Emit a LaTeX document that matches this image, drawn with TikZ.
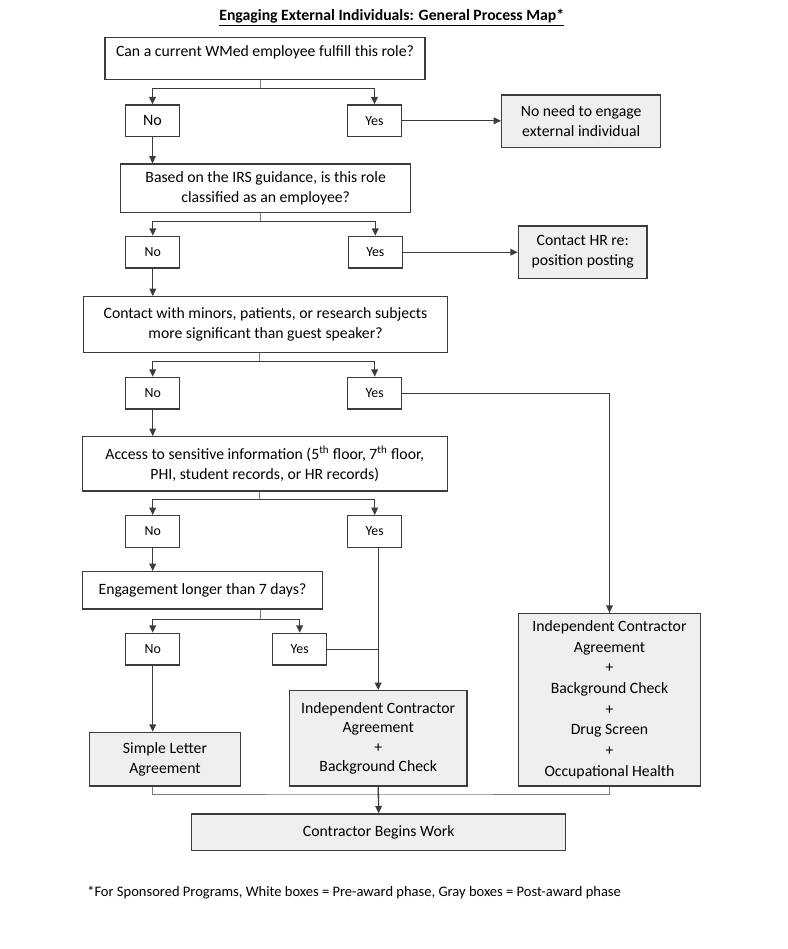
\documentclass[tikz,border=0pt]{standalone}
\usepackage{fontspec}
\setmainfont{Carlito}
\usetikzlibrary{arrows.meta}
\definecolor{edge}{RGB}{60,60,60}
\definecolor{stemgray}{RGB}{125,125,125}
\definecolor{post}{RGB}{239,239,239}

\begin{document}
\begin{tikzpicture}[
  x=0.75pt, y=-0.75pt,
  box/.style 2 args={rectangle, draw=edge, line width=0.95pt, fill=white,
    minimum width=#1*0.75pt, minimum height=#2*0.75pt, inner sep=1pt,
    font=\fontsize{11.8}{15}\selectfont, align=center},
  gbox/.style 2 args={box={#1}{#2}, fill=post},
  ans/.style={box={54}{31.7}, font=\fontsize{10.4}{12}\selectfont},
  arrow/.style={-{Triangle[length=5.5pt,width=5pt]}, line width=1pt, edge},
  link/.style={line width=0.75pt, edge},
  stem/.style={line width=0.7pt, stemgray}
]
\useasboundingbox (0,0) rectangle (788,949);

\node[font=\fontsize{11.8}{13}\selectfont\bfseries] (title) at (391.7,18)
  {\underline{Engaging External Individuals: General Process Map*}};

% Questions
\node[box={320}{42}, text depth=11pt] (q1) at (265,58.3) {Can a current WMed employee fulfill this role?};
\node[box={290}{48.3}] (q2) at (265.7,188.2) {Based on the IRS guidance, is this role\\classified as an employee?};
\node[box={364.4}{55.6}] (q3) at (265.5,324.5) {Contact with minors, patients, or research subjects\\more significant than guest speaker?};
\node[box={365}{54.3}] (q4) at (264.8,463.8) {Access to sensitive information (5\textsuperscript{th} floor, 7\textsuperscript{th} floor,\\PHI, student records, or HR records)};
\node[box={240.4}{37.3}] (q5) at (202.5,590.3) {Engagement longer than 7 days?};

% Answers
\node[ans, font=\fontsize{12}{15}\selectfont] (no1) at (152.5,120.8) {No};
\node[ans] (yes1) at (374.5,120.8) {Yes};
\node[ans] (no2) at (152.8,252.2) {No};
\node[ans] (yes2) at (375.3,252.2) {Yes};
\node[ans] (no3) at (152.7,393.2) {No};
\node[ans] (yes3) at (374.7,393.2) {Yes};
\node[ans] (no4) at (152.7,531.5) {No};
\node[ans] (yes4) at (374.7,531.5) {Yes};
\node[ans] (no5) at (152.7,649.2) {No};
\node[ans] (yes5) at (299.7,649.2) {Yes};

% Outcomes (gray = post-award)
\node[gbox={159}{52.3}] (noneed) at (581.2,121.2) {No need to engage\\external individual};
\node[gbox={128.7}{52.3}] (hr) at (582.7,252.2) {Contact HR re:\\position posting};
\node[gbox={151.4}{53.7}] (sla) at (165,759.2) {Simple Letter\\Agreement};
\node[gbox={177.7}{95.3}, font=\fontsize{11.8}{14.4}\selectfont] (ica2) at (378.2,738.3) {Independent Contractor\\Agreement\\+\\Background Check};
\node[gbox={182.4}{172.7}, font=\fontsize{11.8}{15.5}\selectfont] (ica3) at (609.5,699.7) {Independent Contractor\\Agreement\\+\\Background Check\\+\\Drug Screen\\+\\Occupational Health};
\node[gbox={374}{36.7}] (cbw) at (378.7,832.3) {Contractor Begins Work};

\node[anchor=west, inner sep=0pt, font=\fontsize{10.9}{12}\selectfont] (note) at (87,893)
  {*For Sponsored Programs, White boxes = Pre-award phase, Gray boxes = Post-award phase};

% Branch points
\coordinate (b1) at (260.7,88.3);
\coordinate (b2) at (260,221.7);
\coordinate (b3) at (259.3,361.7);
\coordinate (b4) at (259.3,499.3);
\coordinate (b5) at (260.7,619.3);
\coordinate (j) at (378.3,794);

\foreach \i in {1,...,4} {
  \draw[stem] (q\i.south -| b\i) -- (b\i);
  \draw[arrow] (b\i) -| (no\i.north);
  \draw[arrow] (b\i) -| (yes\i.north);
}
\draw[stem] (q5.south -| b5) -- (b5);
\draw[arrow] (b5) -| (no5.north);
\draw[arrow] (b5) -| (yes5.north);

% No path down the left
\draw[arrow] (no1.south) -- (no1.south |- q2.north);
\draw[arrow] (no2.south) -- (no2.south |- q3.north);
\draw[arrow] (no3.south) -- (no3.south |- q4.north);
\draw[arrow] (no4.south) -- (no4.south |- q5.north);
\draw[arrow] (no5.south) -- (no5.south |- sla.north);

% Yes paths
\draw[arrow] (yes1.east) -- (yes1.east -| noneed.west);
\draw[arrow] (yes2.east) -- (yes2.east -| hr.west);
\draw[link] (yes3.east) -| (ica3.north);
\draw[arrow] (ica3.north |- 0,600) -- (ica3.north);
\draw[arrow] (yes4.south -| ica2) -- (ica2.north);
\draw[link] (yes5.east) -- (yes5.east -| ica2);

% Merge into final box
\draw[stem] (sla.south -| no5) |- (j) -| (ica3.south);
\draw[arrow] (ica2.south) -- (cbw.north);
\end{tikzpicture}
\end{document}
